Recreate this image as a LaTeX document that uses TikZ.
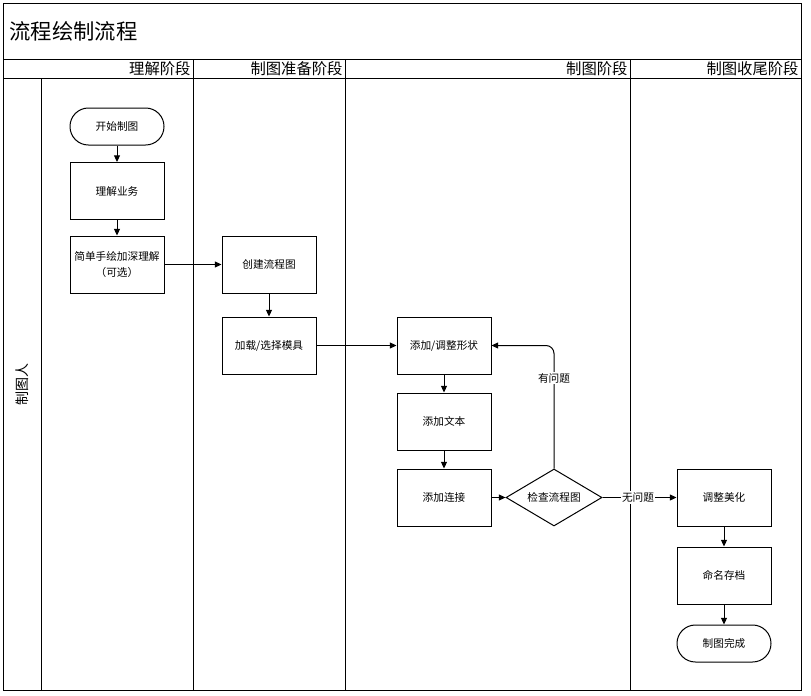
\documentclass[tikz,border=0pt]{standalone}
\usepackage{fontspec}
\setmainfont{Noto Sans CJK SC}
\usetikzlibrary{shapes.geometric,arrows.meta}
\begin{document}
\begin{tikzpicture}[x=0.75pt,y=-0.75pt,line width=0.75pt,
  box/.style={draw,minimum width=70.5pt,minimum height=42.75pt,inner sep=0pt,align=center,font=\fontsize{8}{12}\selectfont},
  term/.style={draw,rounded corners=13.8pt,minimum width=70.5pt,minimum height=27.75pt,inner sep=0pt,font=\fontsize{8}{12}\selectfont},
  dec/.style={draw,diamond,aspect=1.7,minimum width=72pt,minimum height=42.75pt,inner sep=0pt,font=\fontsize{8}{12}\selectfont},
  lbl/.style={fill=white,inner sep=1pt,font=\fontsize{8}{12}\selectfont},
  hdr/.style={anchor=east,inner sep=0pt,font=\fontsize{11.5}{14}\selectfont},
  arr/.style={-{Triangle[length=5pt,width=4.5pt]}}]
\useasboundingbox (0,0) rectangle (811,696);
% frame
\draw (3,3) rectangle (801,690);
\draw (3,59) -- (801,59);
\draw (3,78) -- (801,78);
\draw (41,78) -- (41,690);
\draw (193,59) -- (193,690);
\draw (345,59) -- (345,690);
\draw (630,59) -- (630,690);
% title and headers
\node[anchor=west,inner sep=0pt,font=\fontsize{16}{20}\selectfont] (title) at (9,31) {流程绘制流程};
\node[hdr] (h1) at (191,69) {理解阶段};
\node[hdr] (h2) at (343,69) {制图准备阶段};
\node[hdr] (h3) at (628,69) {制图阶段};
\node[hdr] (h4) at (799,69) {制图收尾阶段};
\node[rotate=90,inner sep=0pt,font=\fontsize{10.5}{12}\selectfont] (lane) at (22,384) {制图人};
% nodes
\node[term] (start) at (117,126.5) {开始制图};
\node[box] (u1) at (117,191) {理解业务};
\node[box] (u2) at (117,264.5) {简单手绘加深理解\\（可选）};
\node[box] (p1) at (269,264.5) {创建流程图};
\node[box] (p2) at (269,345.5) {加载/选择模具};
\node[box] (d1) at (444,345.5) {添加/调整形状};
\node[box] (d2) at (444,421.5) {添加文本};
\node[box] (d3) at (444,497.5) {添加连接};
\node[dec] (chk) at (554,497.5) {检查流程图};
\node[box] (e1) at (724,497.5) {调整美化};
\node[box] (e2) at (724,575.5) {命名存档};
\node[term] (end) at (724,643.5) {制图完成};
% edges
\draw[arr] (start) -- (u1);
\draw[arr] (u1) -- (u2);
\draw[arr] (u2) -- (p1);
\draw[arr] (p1) -- (p2);
\draw[arr] (p2) -- (d1);
\draw[arr] (d1) -- (d2);
\draw[arr] (d2) -- (d3);
\draw[arr] (d3) -- (chk);
\draw[arr,rounded corners=6pt] (chk.north) |- (d1.east);
\node[lbl] (yes) at (554,378) {有问题};
\draw[arr] (chk) -- (e1) node[lbl,pos=0.48] (no) {无问题};
\draw[arr] (e1) -- (e2);
\draw[arr] (e2) -- (end);
\end{tikzpicture}
\end{document}
